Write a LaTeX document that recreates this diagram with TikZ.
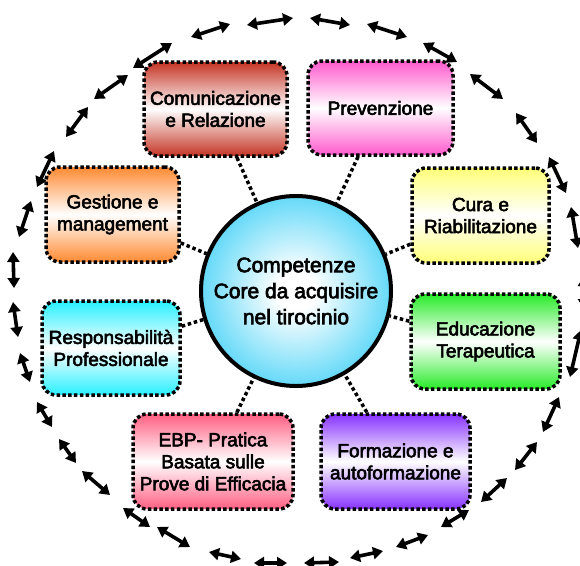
\documentclass[tikz,border=0pt]{standalone}
\usepackage{fontspec}
\setmainfont{Liberation Sans}[BoldFont=Liberation Sans, BoldFeatures={FakeBold=3}]
\usetikzlibrary{arrows.meta}

\definecolor{cyanc}{RGB}{30,200,245}
\definecolor{redc}{RGB}{196,52,36}
\definecolor{pinkc}{RGB}{255,90,205}
\definecolor{orangec}{RGB}{255,138,50}
\definecolor{yellowc}{RGB}{255,255,120}
\definecolor{aquac}{RGB}{40,240,255}
\definecolor{greenc}{RGB}{40,235,40}
\definecolor{rosec}{RGB}{255,95,130}
\definecolor{purplec}{RGB}{135,50,255}

\pgfdeclareradialshading{ballc}{\pgfpoint{0bp}{0bp}}{color(0bp)=(white); color(5bp)=(white); color(34bp)=(cyanc); color(50bp)=(cyanc)}

\begin{document}
\begin{tikzpicture}[x=1pt,y=-1pt,
  box/.style={draw=black, line width=3.5pt, dash pattern=on 3.5pt off 2.3pt,
    rounded corners=14pt, align=center, inner sep=0pt,
    font=\fontsize{19}{22}\selectfont\bfseries},
  grad/.style={top color=#1, bottom color=#1, middle color=white},
  link/.style={line width=3.5pt, dash pattern=on 3.5pt off 2.8pt},
  ringarrow/.style={line width=3.6pt, <->, >={Triangle[length=10pt,width=12pt]}}]

\useasboundingbox (0,0) rectangle (580,565);
\clip (0,0) rectangle (580,565);

% outer ring of double arrows
\foreach \p/\q in {
  {191,37}/{230,24}, {247,25}/{293,18}, {310,18}/{350,25}, {367,24}/{407,37},
  {423,43}/{457,62}, {470,74}/{503,99}, {516,113}/{537,143}, {549,157}/{566,193},
  {571,207}/{578,248}, {584,276}/{584,309}, {581,330}/{570,377}, {559,397}/{543,432},
  {537,442}/{515,470}, {507,478}/{481,502}, {469,510}/{441,527}, {428,535}/{396,547},
  {383,551}/{350,558}, {339,562}/{304,563}, {287,563}/{254,563}, {241,559}/{209,552},
  {190,547}/{157,527}, {150,527}/{123,508}, {110,495}/{82,471}, {76,463}/{59,439},
  {52,427}/{37,402}, {30,382}/{20,353}, {18,337}/{13,302}, {14,288}/{13,252},
  {19,237}/{31,201}, {37,187}/{54,151}, {66,137}/{88,107}, {94,99}/{128,75},
  {133,68}/{172,43}}
  \draw[ringarrow] (\p) -- (\q);

% central circle
\node[circle, draw=black, line width=4pt, minimum size=190pt, inner sep=0pt,
  shading=ballc, align=center, font=\fontsize{21}{26}\selectfont\bfseries]
  (core) at (296,291) {Competenze\\Core da acquisire\\nel tirocinio};

% boxes
\node[box, grad=redc, minimum width=143pt, minimum height=94pt] (com) at (215.5,109) {Comunicazione\\e Relazione};
\node[box, grad=pinkc, minimum width=145pt, minimum height=94pt] (prev) at (380.5,108) {Prevenzione};
\node[box, grad=orangec, minimum width=133pt, minimum height=95pt] (gest) at (112.5,214.5) {Gestione e\\management};
\node[box, grad=yellowc, minimum width=137pt, minimum height=95pt] (cura) at (480.5,215.5) {Cura e\\Riabilitazione};
\node[box, grad=aquac, minimum width=138pt, minimum height=94pt] (resp) at (111,348) {Responsabilità\\Professionale};
\node[box, grad=greenc, minimum width=149pt, minimum height=95pt] (edu) at (485.5,341.5) {Educazione\\Terapeutica};
\node[box, grad=rosec, minimum width=160pt, minimum height=95pt] (ebp) at (213,461.5) {EBP- Pratica\\Basata sulle\\Prove di Efficacia};
\node[box, grad=purplec, minimum width=149pt, minimum height=95pt] (form) at (395.5,461.5) {Formazione e\\autoformazione};

% dotted connectors
\foreach \b in {com,prev,gest,cura,resp,edu,ebp,form}
  \draw[link] (\b) -- (core);

\end{tikzpicture}
\end{document}
